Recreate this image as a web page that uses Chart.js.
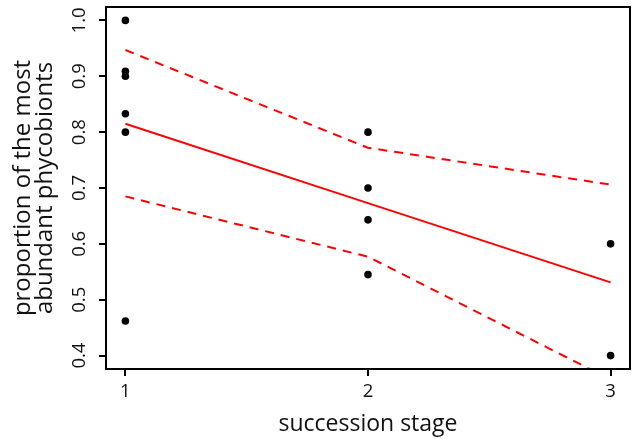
<!DOCTYPE html>
<html>
<head>
<meta charset="utf-8">
<script src="https://cdn.jsdelivr.net/npm/chart.js@4"></script>
<style>
  html, body { margin: 0; padding: 0; background: #fff; }
</style>
</head>
<body>
<canvas id="chart" width="634" height="439"></canvas>
<script>
// observed proportions per succession stage
const stage1Obs = [1.0, 0.909, 0.9, 0.833, 0.8, 0.462];
const stage2Obs = [0.8, 0.7, 0.643, 0.545];
const stage3Obs = [0.6, 0.4];

// fitted line and confidence band at stages 1, 2, 3
const stages = [1, 2, 3];
const fitted = [0.815, 0.673, 0.531];
const upperCI = [0.947, 0.772, 0.706];
const lowerCI = [0.685, 0.577, 0.357];

const xTicks = [1, 2, 3];
const yTicks = [0.4, 0.5, 0.6, 0.7, 0.8, 0.9, 1.0];

const obsPoints = [
  ...stage1Obs.map(v => ({ x: 1, y: v })),
  ...stage2Obs.map(v => ({ x: 2, y: v })),
  ...stage3Obs.map(v => ({ x: 3, y: v })),
];
const toXY = arr => stages.map((s, i) => ({ x: s, y: arr[i] }));

const boxPlugin = {
  id: 'box',
  afterDatasetsDraw(chart) {
    const { ctx, chartArea: a } = chart;
    ctx.save();
    ctx.strokeStyle = '#000';
    ctx.lineWidth = 2;
    ctx.strokeRect(a.left, a.top, a.right - a.left, a.bottom - a.top);
    ctx.restore();
  }
};

const FONT = '"Open Sans", sans-serif';

new Chart(document.getElementById('chart'), {
  type: 'scatter',
  data: {
    datasets: [
      {
        label: 'observed',
        data: obsPoints,
        pointRadius: 3.8,
        pointBackgroundColor: '#000',
        pointBorderWidth: 0,
        order: 2
      },
      {
        label: 'fit',
        data: toXY(fitted),
        showLine: true,
        borderColor: '#f00',
        borderWidth: 2,
        pointRadius: 0,
        order: 1
      },
      {
        label: 'upper',
        data: toXY(upperCI),
        showLine: true,
        borderColor: '#f00',
        borderWidth: 2,
        borderDash: [9, 7],
        pointRadius: 0,
        order: 1
      },
      {
        label: 'lower',
        data: toXY(lowerCI),
        showLine: true,
        borderColor: '#f00',
        borderWidth: 2,
        borderDash: [9, 7],
        pointRadius: 0,
        order: 1
      }
    ]
  },
  options: {
    responsive: false,
    animation: false,
    layout: { padding: { top: 7, right: 1, left: 0, bottom: 0 } },
    plugins: {
      legend: { display: false },
      tooltip: { enabled: false }
    },
    scales: {
      x: {
        type: 'linear',
        min: 0.92,
        max: 3.08,
        afterBuildTicks: s => { s.ticks = xTicks.map(v => ({ value: v })); },
        afterFit: s => { s.height = 70; s.paddingLeft = 0; s.paddingRight = 0; },
        border: { display: false },
        grid: { drawOnChartArea: false, drawTicks: true, tickLength: 7, color: '#000', lineWidth: 2 },
        ticks: { color: '#111', font: { family: FONT, size: 18.5 }, padding: 5, callback: v => String(v) },
        title: {
          display: true,
          text: 'succession stage',
          color: '#111',
          font: { family: FONT, size: 23, lineHeight: 1.2 },
          padding: { top: 0, bottom: 1 }
        }
      },
      y: {
        type: 'linear',
        min: 0.376,
        max: 1.024,
        afterBuildTicks: s => { s.ticks = yTicks.map(v => ({ value: v })); },
        afterFit: s => { s.width = 106; s.paddingTop = 0; s.paddingBottom = 0; },
        border: { display: false },
        grid: { drawOnChartArea: false, drawTicks: true, tickLength: 7, color: '#000', lineWidth: 2 },
        ticks: {
          color: '#111',
          font: { family: FONT, size: 18.5 },
          padding: 6,
          minRotation: 90,
          maxRotation: 90,
          crossAlign: 'center',
          callback: v => v.toFixed(1)
        },
        title: {
          display: true,
          text: ['proportion of the most', 'abundant phycobionts'],
          color: '#111',
          font: { family: FONT, size: 24, lineHeight: 0.92 },
          padding: { top: 12, bottom: 0 }
        }
      }
    }
  },
  plugins: [boxPlugin]
});
</script>
</body>
</html>
